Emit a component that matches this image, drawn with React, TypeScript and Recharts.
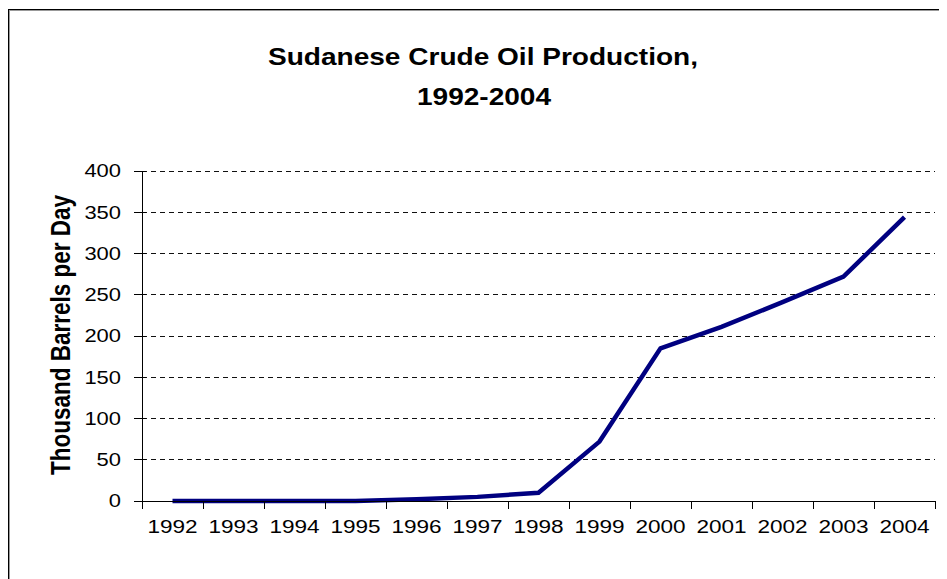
import { LineChart, Line, XAxis, YAxis, CartesianGrid } from 'recharts';

const years = ['1992', '1993', '1994', '1995', '1996', '1997', '1998', '1999', '2000', '2001', '2002', '2003', '2004'];
const production = [0, 0, 0, 0, 2, 5, 10, 72, 185, 211, 241, 272, 344];
const yTicks = [0, 50, 100, 150, 200, 250, 300, 350, 400];

const FONT = '"Liberation Sans", Arial, sans-serif';
const STRETCH = 1.22;

// category boundaries get tick marks, category centres get the year labels
const xTicks: number[] = [];
for (let i = 0; i <= years.length; i++) {
  xTicks.push(i);
  if (i < years.length) xTicks.push(i + 0.5);
}

const chartData = years.map((year, i) => ({ x: i + 0.5, year, value: production[i] }));

const XTick = (props: any) => {
  const { x, y, payload } = props;
  const v = payload.value as number;
  if (Number.isInteger(v)) {
    return <line x1={x} x2={x} y1={y} y2={y + 8} stroke="#000" strokeWidth={1} shapeRendering="crispEdges" />;
  }
  return (
    <text
      transform={`translate(${x},${y + 26}) scale(${STRETCH},1)`}
      textAnchor="middle"
      dy="0.35em"
      fontFamily={FONT}
      fontSize={18.5}
      fill="#000"
    >
      {years[Math.floor(v)]}
    </text>
  );
};

const YTick = (props: any) => {
  const { x, y, payload } = props;
  return (
    <g>
      <line x1={x - 8} x2={x + 4} y1={y} y2={y} stroke="#000" strokeWidth={1} shapeRendering="crispEdges" />
      <text
        transform={`translate(${x - 21},${y}) scale(${STRETCH},1)`}
        textAnchor="end"
        dy="0.35em"
        fontFamily={FONT}
        fontSize={18}
        fill="#000"
      >
        {payload.value}
      </text>
    </g>
  );
};

export default function App() {
  return (
    <div style={{ position: 'relative', width: 939, height: 571, background: '#fff' }}>
      <style>{`
        .recharts-cartesian-grid line, .recharts-cartesian-axis-line { shape-rendering: crispEdges; }
      `}</style>
      <div
        style={{
          position: 'absolute',
          left: 0,
          top: 1,
          width: 939,
          height: 570,
          boxSizing: 'border-box',
          borderTop: '1px solid #000',
          borderLeft: '1px solid #000',
          boxShadow: 'inset 1px 1px 0 #999',
        }}
      />
      <svg
        width={939}
        height={571}
        style={{ position: 'absolute', left: 0, top: 0, pointerEvents: 'none' }}
      >
        <g fontFamily={FONT} fontWeight="bold" fill="#000">
          <text transform={`translate(475,49) scale(${STRETCH},1)`} textAnchor="middle" dy="0.35em" fontSize={23}>
            Sudanese Crude Oil Production,
          </text>
          <text transform={`translate(476,89) scale(${STRETCH},1)`} textAnchor="middle" dy="0.35em" fontSize={23}>
            1992-2004
          </text>
          <text
            transform={`translate(52,327) scale(${STRETCH},1) rotate(-90)`}
            textAnchor="middle"
            dy="0.35em"
            fontSize={22.5}
          >
            Thousand Barrels per Day
          </text>
        </g>
      </svg>
      <div style={{ position: 'absolute', left: 0, top: 0 }}>
        <LineChart width={939} height={571} data={chartData} margin={{ top: 163, right: 12, bottom: 38, left: 0 }}>
          <CartesianGrid horizontal vertical={false} stroke="#111" strokeDasharray="5 4" />
          <XAxis
            dataKey="x"
            type="number"
            domain={[0, years.length]}
            ticks={xTicks}
            interval={0}
            height={40}
            tickSize={0}
            tickMargin={0}
            tickLine={false}
            tick={<XTick />}
            axisLine={{ stroke: '#000', strokeWidth: 1 }}
          />
          <YAxis
            type="number"
            domain={[0, 400]}
            ticks={yTicks}
            interval={0}
            width={134}
            tickSize={0}
            tickMargin={0}
            tickLine={false}
            tick={<YTick />}
            axisLine={{ stroke: '#000', strokeWidth: 1 }}
          />
          <Line
            type="linear"
            dataKey="value"
            stroke="#000080"
            strokeWidth={4.5}
            dot={false}
            activeDot={false}
            isAnimationActive={false}
          />
        </LineChart>
      </div>
    </div>
  );
}
